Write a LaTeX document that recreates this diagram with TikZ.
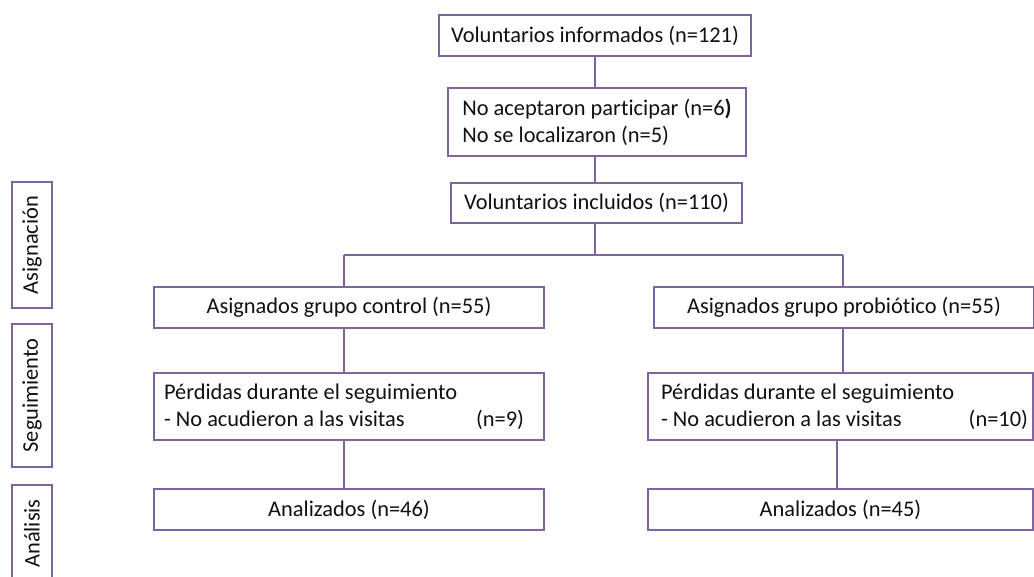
\documentclass[tikz,border=0pt]{standalone}
\usepackage{fontspec}
\setmainfont{Carlito}[Ligatures={NoCommon}]
\usetikzlibrary{calc}
\definecolor{boxpurple}{HTML}{8064A2}
\definecolor{txtgray}{HTML}{111111}
\tikzset{
  box/.style={draw=boxpurple, line width=2pt, fill=white, inner sep=0pt, text=txtgray,
    font=\fontsize{22.4}{27}\selectfont, anchor=north west},
  sidebox/.style={draw=boxpurple, line width=2pt, fill=white, inner sep=0pt, text=txtgray,
    font=\fontsize{22.4}{27}\selectfont, rotate=90, minimum height=40pt},
  conn/.style={draw=boxpurple, line width=2pt},
}
\begin{document}
\begin{tikzpicture}[x=1pt,y=-1pt]
\useasboundingbox (0,0) rectangle (1034,577);
% main column
\node[box, minimum width=312pt, minimum height=41pt] (inf) at (438,14) {Voluntarios informados (n=121)};
\node[box, minimum width=298pt, minimum height=68pt, align=left] (exc) at (447,87) {No aceptaron participar (n=6\textbf{)}\\No se localizaron (n=5)};
\node[box, minimum width=291pt, minimum height=40pt] (inc) at (450,182) {Voluntarios incluidos (n=110)};
% left branch
\node[box, minimum width=390pt, minimum height=41pt] (asc) at (153,286) {Asignados grupo control (n=55)};
\node[box, minimum width=390pt, minimum height=67pt, text width=370pt, inner xsep=10pt, align=flush left] (pec) at (153,372) {Pérdidas durante el seguimiento\\- No acudieron a las visitas\hfill(n=9)\hspace*{10pt}};
\node[box, minimum width=390pt, minimum height=41pt] (anc) at (153,488) {Analizados (n=46)};
% right branch
\node[box, minimum width=380pt, minimum height=41pt] (asp) at (653,286) {Asignados grupo probiótico (n=55)};
\node[box, minimum width=385pt, minimum height=67pt, text width=375pt, inner xsep=5pt, align=flush left] (pep) at (647,372) {\hspace*{8pt}Pérdidas durante el seguimiento\\\hspace*{8pt}- No acudieron a las visitas\hfill(n=10)};
\node[box, minimum width=385pt, minimum height=41pt] (anp) at (647,488) {Analizados (n=45)};
% side labels
\node[sidebox, minimum width=126pt] (lab1) at (32,245) {Asignación};
\node[sidebox, minimum width=143pt] (lab2) at (32,395.5) {Seguimiento};
\node[sidebox, minimum width=97pt] (lab3) at (32,533.5) {Análisis};
% connectors
\coordinate (split) at (595,255);
\draw[conn] (inf.south -| split) -- (exc.north -| split);
\draw[conn] (exc.south -| split) -- (inc.north -| split);
\draw[conn] (inc.south -| split) -- (split);
\draw[conn] (split -| 344,0) -- (split -| 843,0);
\draw[conn] (split -| 344,0) -- (asc.north -| 344,0);
\draw[conn] (split -| 843,0) -- (asp.north -| 843,0);
\draw[conn] (asc.south -| 344,0) -- (pec.north -| 344,0);
\draw[conn] (pec.south -| 344,0) -- (anc.north -| 344,0);
\draw[conn] (asp.south -| 843,0) -- (pep.north -| 843,0);
\draw[conn] (pep.south -| 837,0) -- (anp.north -| 837,0);
\end{tikzpicture}
\end{document}
